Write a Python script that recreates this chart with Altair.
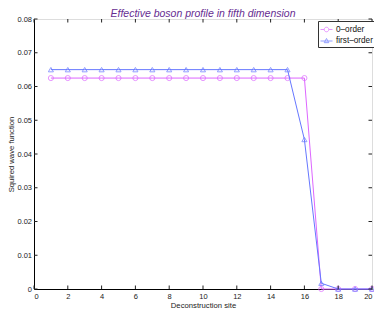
import altair as alt
import pandas as pd

sites = list(range(1, 21))
zero_order = [0.0625, 0.0625, 0.0625, 0.0625, 0.0625, 0.0625, 0.0625, 0.0625,
              0.0625, 0.0625, 0.0625, 0.0625, 0.0625, 0.0625, 0.0625, 0.0625,
              0.0, 0.0, 0.0, 0.0]
first_order = [0.065, 0.065, 0.065, 0.065, 0.065, 0.065, 0.065, 0.065,
               0.065, 0.065, 0.065, 0.065, 0.065, 0.065, 0.065, 0.0443,
               0.0017, 0.0, 0.0, 0.0]
series_names = ["0\u2013order", "first\u2013order"]
series_colors = ["#dd66ff", "#6677ff"]
x_ticks = [0, 2, 4, 6, 8, 10, 12, 14, 16, 18, 20]
y_ticks = [0, 0.01, 0.02, 0.03, 0.04, 0.05, 0.06, 0.07, 0.08]

W, H = 338, 270
FONT = "Liberation Sans"

df0 = pd.DataFrame({"site": sites, "value": zero_order})
df1 = pd.DataFrame({"site": sites, "value": first_order})
dfx = pd.DataFrame({"site": x_ticks})
dfy = pd.DataFrame({"value": y_ticks})
dfl = pd.DataFrame({"series": series_names})

xs = alt.Scale(domain=[0, 20], nice=False, zero=False)
ys = alt.Scale(domain=[0, 0.08], nice=False)

x_axis = alt.Axis(values=x_ticks, ticks=False, grid=False, title="Deconstruction site",
                  domainColor="black", labelFontSize=7.5, labelColor="#222",
                  titleFontSize=7.7, titleFontWeight="normal", titleColor="#222",
                  labelPadding=3, titlePadding=2, labelFont=FONT, titleFont=FONT)
y_axis = alt.Axis(values=y_ticks, ticks=False, grid=False, title="Squired wave function",
                  domainColor="black", labelFontSize=7.5, labelColor="#222",
                  titleFontSize=7.7, titleFontWeight="normal", titleColor="#222",
                  labelPadding=2.5, titlePadding=1, labelFont=FONT, titleFont=FONT,
                  labelExpr="datum.value == 0 ? '0' : format(datum.value, '.2f')")

X = alt.X("site:Q", scale=xs, axis=x_axis)
Y = alt.Y("value:Q", scale=ys, axis=y_axis)

line0 = alt.Chart(df0).mark_line(color=series_colors[0], strokeWidth=1).encode(x=X, y=Y)
pts0 = alt.Chart(df0).mark_point(shape="circle", color=series_colors[0], filled=False,
                                 size=26, strokeWidth=1, clip=False).encode(x=X, y=Y)
line1 = alt.Chart(df1).mark_line(color=series_colors[1], strokeWidth=1).encode(x=X, y=Y)
pts1 = alt.Chart(df1).mark_point(shape="triangle-up", color=series_colors[1], filled=False,
                                 size=26, strokeWidth=1, clip=False).encode(x=X, y=Y)

tk = 3.5
tick_style = dict(color="#222", strokeWidth=1)
xt_bottom = alt.Chart(dfx).mark_rule(**tick_style).encode(
    x=X, y=alt.value(H), y2=alt.value(H - tk))
xt_top = alt.Chart(dfx).mark_rule(**tick_style).encode(
    x=X, y=alt.value(0), y2=alt.value(tk))
yt_left = alt.Chart(dfy).mark_rule(**tick_style).encode(
    y=Y, x=alt.value(0), x2=alt.value(tk))
yt_right = alt.Chart(dfy).mark_rule(**tick_style).encode(
    y=Y, x=alt.value(W), x2=alt.value(W - tk))

circ_path = ("M-1,0L-0.38,0M0.38,0L1,0M-0.38,0A0.38,0.38,0,1,1,0.38,0"
             "A0.38,0.38,0,1,1,-0.38,0Z")
tri_path = "M-1,0L1,0M0,-0.42L0.38,0.28L-0.38,0.28Z"

legend = alt.Legend(title=None, orient="none", legendX=284, legendY=2,
                    strokeColor="#333", fillColor="white", padding=2,
                    labelFontSize=8.2, labelFont=FONT, labelColor="#111",
                    symbolSize=144, symbolStrokeWidth=1, rowPadding=0.5,
                    labelOffset=3, cornerRadius=0)
leg_layer = alt.Chart(dfl).transform_filter("false").mark_point(filled=False).encode(
    color=alt.Color("series:N", scale=alt.Scale(domain=series_names, range=series_colors),
                    legend=legend),
    shape=alt.Shape("series:N", scale=alt.Scale(domain=series_names,
                                                range=[circ_path, tri_path]),
                    legend=legend),
)

chart = alt.layer(
    line0, pts0, line1, pts1, xt_bottom, xt_top, yt_left, yt_right, leg_layer
).properties(
    width=W, height=H,
    title=alt.Title("Effective boson profile in fifth dimension", fontSize=10.5,
                    fontStyle="italic", fontWeight="normal", color="#662d91",
                    font=FONT, offset=0, dy=4, anchor="middle"),
    autosize=alt.AutoSizeParams(type="none"),
    padding={"left": 26, "top": 11, "right": 2, "bottom": 20},
).configure_view(stroke="#8a8a8a", strokeWidth=1.5).configure(background="white")

chart.save("out.html", embed_options={"renderer": "svg", "actions": False})
